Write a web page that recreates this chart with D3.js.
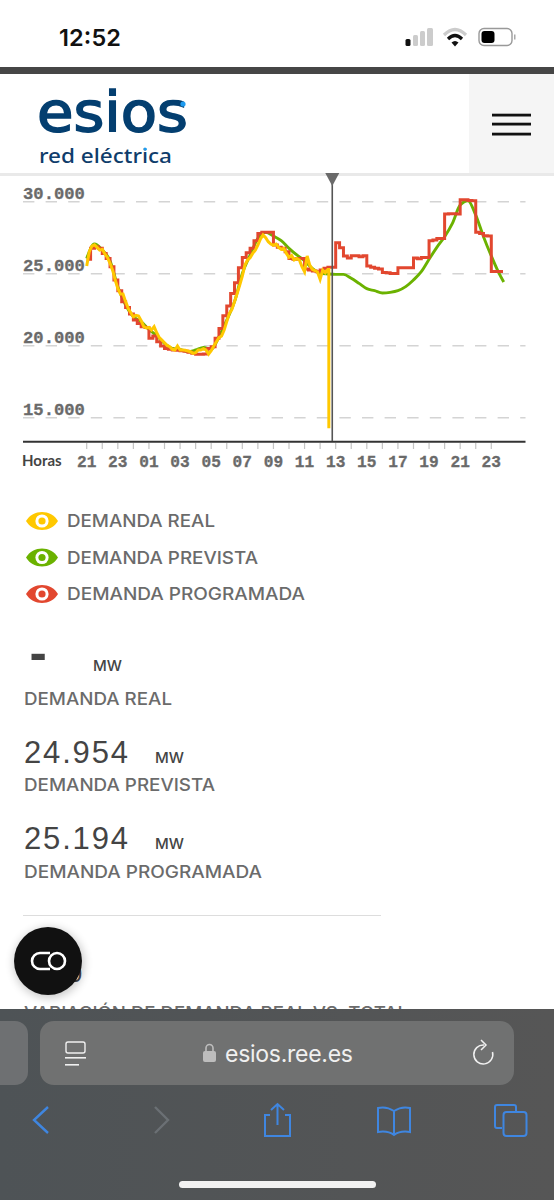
<!DOCTYPE html>
<html>
<head>
<meta charset="utf-8">
<script src="https://cdn.jsdelivr.net/npm/d3@7"></script>
<style>
  html, body { margin: 0; padding: 0; background: #fff; overflow: hidden; }
  svg { display: block; }
</style>
</head>
<body>
<div id="graph"></div>
<script>
// hours counted from 21:00 of the previous day
const tickHours = d3.range(0, 27);
const tickLabels = ['21', '23', '01', '03', '05', '07', '09', '11', '13', '15', '17', '19', '21', '23'];
const yTicks = [15000, 20000, 25000, 30000];

// demanda real, one sample every 10 minutes, then the drop at the cut
const realValues = [
  25530, 26530, 26920, 27010, 26830, 26640, 26690, 26370, 26130, 25720, 25250, 24560,
  23980, 23590, 23590, 23060, 22590, 22290, 22010, 22110, 22060, 21740, 21320, 21230,
  21270, 21090, 21320, 20900, 20560, 20390, 20210, 20020, 19930, 19750, 19700, 19980,
  19700, 19700, 19680, 19630, 19580, 19470, 19510, 19700, 19700, 19790, 19700, 19420,
  19650, 19980, 20280, 20560, 20670, 21090, 21670, 22250, 22520, 23060, 23630, 24210,
  24840, 25600, 25950, 26110, 26410, 26640, 26990, 27410, 27690, 27500, 27220, 27060,
  26970, 27060, 26830, 26690, 26760, 26410, 26130, 26270, 25950, 26060, 25950, 25490,
  25140, 26230, 25600, 25300, 25210, 25120, 24610, 25250, 25070, 25300
];
const realTailHours = [15.56, 15.56];
const realTailValues = [25300, 14260];

// demanda prevista, one sample every 30 minutes, the last one at 23:48
const previstaValues = [
  26060, 27060, 26640, 25900, 24100, 22820, 22010, 21670, 21130, 20690, 20160, 19810,
  19750, 19580, 19700, 19880, 19750, 20620, 21780, 23060, 25020, 26300, 27450, 27870,
  27620, 27290, 26760, 26300, 25900, 25370, 25020, 24980, 24954, 24950, 24680, 24330,
  23960, 23820, 23660, 23700, 23820, 24100, 24560, 25140, 26000, 26830, 27570, 28500,
  29770, 30070, 29070, 27570, 26230, 25020, 24420
];
const previstaEndHour = 26.8;

// demanda programada, one step every 15 minutes
const programadaValues = [
  26000, 26760, 26880, 26760, 26410, 26060, 25490, 24560, 23820, 23060, 22660, 22200,
  21780, 21550, 21320, 21270, 20510, 20670, 20280, 19980, 19810, 19750, 19700, 19680,
  19650, 19610, 19540, 19470, 19400, 19400, 19420, 19810, 19930, 20510, 21200, 22080,
  22750, 23630, 24370, 25420, 26130, 26460, 26760, 27290, 27800, 27870, 27870, 27870,
  26990, 26830, 26760, 26530, 26060, 26000, 26060, 26060, 25320, 25250, 25190, 25140,
  25250, 25370, 25440, 25440, 27150, 26800, 26230, 26090, 26250, 26250, 26180, 26250,
  25530, 25440, 25370, 25320, 25090, 25070, 25020, 25020, 25420, 25420, 25420, 25420,
  26090, 26040, 26130, 26130, 27290, 27340, 27450, 27450, 29140, 29170, 29170, 29140,
  30140, 30140, 30090, 30070, 27870, 27800, 27640, 27620, 25160, 25160, 25160, 25160
];

const cursorHour = 15.78;

const legendNames = ['DEMANDA REAL', 'DEMANDA PREVISTA', 'DEMANDA PROGRAMADA'];
const legendWidths = [148, 191, 238];
const legendColors = ['#ffc800', '#6bb200', '#e2472f'];

const svg = d3.select('#graph').append('svg').attr('width', 554).attr('height', 1200);
const x = d3.scaleLinear().domain([0, 26]).range([86.7, 491.3]);
const y = d3.scaleLinear().domain([15000, 30000]).range([417.7, 201.7]);
const chart = svg.append('g');
const sans = "Inter, 'Open Sans', sans-serif";
const mono = "'Liberation Mono', monospace";

// grid
chart.selectAll('.grid').data(yTicks).enter().append('line')
  .attr('x1', 23).attr('x2', 525.5)
  .attr('y1', d => y(d)).attr('y2', d => y(d))
  .attr('stroke', '#d4d4d4').attr('stroke-width', 1.4).attr('stroke-dasharray', '11.4 11.2');

chart.selectAll('.ylab').data(yTicks).enter().append('text')
  .attr('x', 23).attr('y', d => y(d) - 3)
  .attr('font-family', mono).attr('font-weight', 700).attr('font-size', 17.2).attr('fill', '#6a6a6a')
  .attr('stroke', '#6a6a6a').attr('stroke-width', 0.3)
  .text(d => d3.format(',')(d).replace(',', '.'));

// x axis
chart.append('line').attr('x1', 23).attr('x2', 525.5).attr('y1', 441.7).attr('y2', 441.7)
  .attr('stroke', '#333').attr('stroke-width', 2);
chart.selectAll('.tick').data(tickHours).enter().append('line')
  .attr('x1', d => x(d)).attr('x2', d => x(d)).attr('y1', 443).attr('y2', 449)
  .attr('stroke', '#c4c4c4').attr('stroke-width', 1.2);
chart.selectAll('.xlab').data(tickLabels).enter().append('text')
  .attr('x', (d, i) => x(i * 2)).attr('y', 467).attr('text-anchor', 'middle')
  .attr('font-family', mono).attr('font-weight', 700).attr('font-size', 16.2).attr('fill', '#6a6a6a')
  .attr('stroke', '#6a6a6a').attr('stroke-width', 0.3)
  .text(d => d);
chart.append('text').attr('x', 22).attr('y', 466)
  .attr('font-family', "Lato, sans-serif").attr('font-weight', 700).attr('font-size', 15).attr('fill', '#444')
  .text('Horas');

// series
const lineOf = curve => d3.line().x(d => x(d[0])).y(d => y(d[1])).curve(curve);
const previstaHours = d3.range(previstaValues.length - 1).map(i => i / 2).concat(previstaEndHour);
const previstaData = previstaValues.map((v, i) => [previstaHours[i], v]);
const programadaData = programadaValues.map((v, i) => [i / 4, v]);
const realData = realValues.map((v, i) => [i / 6, v])
  .concat(realTailValues.map((v, i) => [realTailHours[i], v]));

chart.append('path').attr('d', lineOf(d3.curveMonotoneX)(previstaData))
  .attr('fill', 'none').attr('stroke', legendColors[1]).attr('stroke-width', 2.9);
chart.append('path').attr('d', lineOf(d3.curveStepAfter)(programadaData))
  .attr('fill', 'none').attr('stroke', legendColors[2]).attr('stroke-width', 3);
chart.append('path').attr('d', lineOf(d3.curveLinear)(realData))
  .attr('fill', 'none').attr('stroke', legendColors[0]).attr('stroke-width', 3);

// cursor
chart.append('line').attr('x1', x(cursorHour)).attr('x2', x(cursorHour)).attr('y1', 180).attr('y2', 441)
  .attr('stroke', '#555').attr('stroke-width', 1.6);

// legend
const legend = svg.selectAll('.legend').data(legendNames).enter().append('g')
  .attr('transform', (d, i) => `translate(0,${[521, 557.5, 594][i]})`);
legend.append('path')
  .attr('d', 'M26,0 C33,-12 51,-12 58,0 C51,12 33,12 26,0 Z')
  .attr('fill', (d, i) => legendColors[i]);
legend.append('circle').attr('cx', 42).attr('r', 6.6).attr('fill', '#fff');
legend.append('circle').attr('cx', 42).attr('r', 3.6).attr('fill', (d, i) => legendColors[i]);
legend.append('text').attr('x', 67).attr('y', 6)
  .attr('font-family', sans).attr('font-weight', 500).attr('font-size', 17.2).attr('fill', '#6b6b6b')
  .attr('textLength', (d, i) => legendWidths[i]).attr('lengthAdjust', 'spacingAndGlyphs')
  .text(d => d);

// read-outs
const readouts = [
  { big: '-', bigX: 29.5, bigY: 669.5, size: 52, weight: 700, mw: 93, mwY: 671, label: 'DEMANDA REAL', labelY: 705, w: 148 },
  { big: '24.954', bigX: 24, bigY: 763, size: 31, weight: 400, mw: 155, mwY: 763, label: 'DEMANDA PREVISTA', labelY: 791, w: 191 },
  { big: '25.194', bigX: 24, bigY: 849, size: 31, weight: 400, mw: 155, mwY: 849, label: 'DEMANDA PROGRAMADA', labelY: 878, w: 238 }
];
readouts.forEach(v => {
  const b = svg.append('text').attr('x', v.bigX).attr('y', v.bigY)
    .attr('font-family', "'Liberation Sans', sans-serif").attr('font-size', v.size)
    .attr('font-weight', v.weight).attr('fill', '#444').text(v.big);
  if (v.big !== '-') b.attr('textLength', 104);
  svg.append('text').attr('x', v.mw).attr('y', v.mwY)
    .attr('font-family', sans).attr('font-weight', 500).attr('font-size', 14).attr('fill', '#444')
    .attr('textLength', 29).attr('lengthAdjust', 'spacingAndGlyphs').text('MW');
  svg.append('text').attr('x', 24).attr('y', v.labelY)
    .attr('font-family', sans).attr('font-weight', 500).attr('font-size', 17.2).attr('fill', '#6b6b6b')
    .attr('textLength', v.w).attr('lengthAdjust', 'spacingAndGlyphs').text(v.label);
});
svg.append('line').attr('x1', 23).attr('x2', 381).attr('y1', 915.5).attr('y2', 915.5)
  .attr('stroke', '#ddd').attr('stroke-width', 1.2);
svg.append('text').attr('x', 82).attr('y', 982).attr('text-anchor', 'end')
  .attr('font-family', "'Liberation Sans', sans-serif").attr('font-size', 24).attr('fill', '#444').text('0,0');
svg.append('text').attr('x', 24).attr('y', 1019)
  .attr('font-family', sans).attr('font-weight', 500).attr('font-size', 17.2).attr('fill', '#6b6b6b')
  .attr('textLength', 384).attr('lengthAdjust', 'spacingAndGlyphs').text('VARIACIÓN DE DEMANDA REAL VS. TOTAL');

// top bars of the phone and page
svg.append('rect').attr('y', 67).attr('width', 554).attr('height', 7).attr('fill', '#464646');
const header = svg.append('g');
header.append('rect').attr('y', 74).attr('width', 554).attr('height', 99).attr('fill', '#fff');
header.append('rect').attr('x', 469).attr('y', 74).attr('width', 85).attr('height', 99).attr('fill', '#f5f5f5');
header.append('rect').attr('y', 173).attr('width', 554).attr('height', 3).attr('fill', '#e9e9e9');
[115, 124, 134].forEach(h => header.append('rect').attr('x', 492).attr('y', h - 1.3)
  .attr('width', 39).attr('height', 2.8).attr('fill', '#111'));
header.append('text').attr('x', 37).attr('y', 130.5)
  .attr('font-family', "'DejaVu Sans', sans-serif").attr('font-size', 55).attr('fill', '#043f70')
  .attr('stroke', '#043f70').attr('stroke-width', 1.6)
  .attr('textLength', 151).attr('lengthAdjust', 'spacingAndGlyphs').text('esios');
header.append('circle').attr('cx', 183).attr('cy', 104).attr('r', 2.6).attr('fill', '#1e9bf0');
header.append('text').attr('x', 39).attr('y', 163)
  .attr('font-family', "'Noto Sans', sans-serif").attr('font-weight', 500).attr('font-size', 20).attr('fill', '#0f3d6b')
  .attr('textLength', 133).attr('lengthAdjust', 'spacingAndGlyphs').text('red eléctrica');
header.append('circle').attr('cx', 145).attr('cy', 149).attr('r', 1.6).attr('fill', '#1e9bf0');

// cursor head pokes out from under the header
header.append('path').attr('d', `M${x(cursorHour) - 7},173 h14 l-7,13 z`).attr('fill', '#6a6a6a');

// status bar
svg.append('text').attr('x', 59).attr('y', 46)
  .attr('font-family', "Inter, sans-serif").attr('font-weight', 600).attr('font-size', 23.5).attr('fill', '#111')
  .attr('textLength', 62).text('12:52');
[[405.5, 39, 5, 7, '#111'], [413, 35, 5, 11, '#ccc'], [420, 31, 5, 15, '#ccc'], [427, 28, 6, 18, '#ccc']]
  .forEach(b => svg.append('rect').attr('x', b[0]).attr('y', b[1]).attr('width', b[2]).attr('height', b[3]).attr('rx', 1.5).attr('fill', b[4]));
svg.append('path').attr('d', 'M444,35 Q455,24 466,35').attr('fill', 'none').attr('stroke', '#ccc').attr('stroke-width', 3.2);
svg.append('path').attr('d', 'M448,39 Q455,32 462,39').attr('fill', 'none').attr('stroke', '#111').attr('stroke-width', 3.2);
svg.append('path').attr('d', 'M451.5,42.5 L455,46.5 L458.5,42.5 Q455,39.5 451.5,42.5 Z').attr('fill', '#111');
svg.append('rect').attr('x', 479).attr('y', 28.5).attr('width', 33).attr('height', 17).attr('rx', 5).attr('fill', 'none').attr('stroke', '#999').attr('stroke-width', 1.4);
svg.append('rect').attr('x', 481.5).attr('y', 31).attr('width', 13).attr('height', 12).attr('rx', 3).attr('fill', '#000');
svg.append('rect').attr('x', 514).attr('y', 34.5).attr('width', 1.5).attr('height', 5).attr('fill', '#aaa');

// floating button
const defs = svg.append('defs');
const blur = defs.append('filter').attr('id', 'shadow').attr('x', '-30%').attr('y', '-30%').attr('width', '160%').attr('height', '160%');
blur.append('feGaussianBlur').attr('stdDeviation', 5);
svg.append('circle').attr('cx', 49).attr('cy', 963).attr('r', 35).attr('fill', '#000').attr('opacity', 0.22).attr('filter', 'url(#shadow)');
svg.append('circle').attr('cx', 48).attr('cy', 961).attr('r', 34).attr('fill', '#111');
svg.append('path').attr('d', 'M50,953 H40 A8,8 0 0 0 40,969 H50').attr('fill', 'none').attr('stroke', '#fff').attr('stroke-width', 2.6);
svg.append('circle').attr('cx', 57).attr('cy', 961).attr('r', 8).attr('fill', 'none').attr('stroke', '#fff').attr('stroke-width', 2.6);

// browser toolbar
const grad = defs.append('linearGradient').attr('id', 'bar').attr('x1', 0).attr('y1', 0).attr('x2', 1).attr('y2', 0);
grad.append('stop').attr('offset', 0).attr('stop-color', '#4e5356');
grad.append('stop').attr('offset', 1).attr('stop-color', '#565656');
svg.append('rect').attr('y', 1009).attr('width', 554).attr('height', 191).attr('fill', 'url(#bar)');
svg.append('rect').attr('x', -20).attr('y', 1021).attr('width', 48).attr('height', 64).attr('rx', 13).attr('fill', '#6e7072');
svg.append('rect').attr('x', 40).attr('y', 1021).attr('width', 474).attr('height', 64).attr('rx', 14).attr('fill', '#707171');
svg.append('rect').attr('x', 66).attr('y', 1042).attr('width', 19).attr('height', 11).attr('rx', 2).attr('fill', 'none').attr('stroke', '#f0f0f0').attr('stroke-width', 1.4);
[[65, 1057, 21], [65, 1064, 14]].forEach(l => svg.append('rect').attr('x', l[0]).attr('y', l[1]).attr('width', l[2]).attr('height', 1.6).attr('fill', '#f0f0f0'));
svg.append('rect').attr('x', 203).attr('y', 1051).attr('width', 13).attr('height', 11).attr('rx', 2).attr('fill', '#bdbdbd');
svg.append('path').attr('d', 'M206,1051 V1048 A3.5,3.5 0 0 1 213,1048 V1051').attr('fill', 'none').attr('stroke', '#bdbdbd').attr('stroke-width', 1.6);
svg.append('text').attr('x', 225).attr('y', 1062)
  .attr('font-family', "Inter, sans-serif").attr('font-size', 23).attr('fill', '#f0f0f0')
  .attr('textLength', 128).text('esios.ree.es');
svg.append('path').attr('d', 'M484,1045 A9.5,9.5 0 1 0 492.5,1052').attr('fill', 'none').attr('stroke', '#f0f0f0').attr('stroke-width', 1.5);
svg.append('path').attr('d', 'M481,1040 L486,1045 L481,1050').attr('fill', 'none').attr('stroke', '#f0f0f0').attr('stroke-width', 1.5);

const blue = '#3f86e0';
const icon = d => svg.append('path').attr('d', d).attr('fill', 'none').attr('stroke', blue).attr('stroke-width', 2);
icon('M48,1107 L34,1120 L48,1133').attr('stroke-width', 2.4);
icon('M155,1107 L168,1120 L155,1133').attr('stroke', '#6b7074').attr('stroke-width', 2.4);
icon('M270,1115 H265 V1136 H290 V1115 H285 M277.5,1125 V1104 M271,1110 L277.5,1104 L284,1110');
icon('M394,1111 C388,1107 382,1107 378,1108 V1132 C384,1131 390,1132 394,1135 C398,1132 404,1131 410,1132 V1108 C406,1107 400,1107 394,1111 V1135');
icon('M502,1128 H497 Q495,1128 495,1126 V1107 Q495,1105 497,1105 H514 Q516,1105 516,1107 V1112');
svg.append('rect').attr('x', 503.5).attr('y', 1112).attr('width', 23).attr('height', 24).attr('rx', 3).attr('fill', 'none').attr('stroke', blue).attr('stroke-width', 2);
svg.append('rect').attr('x', 179).attr('y', 1181).attr('width', 197).attr('height', 7).attr('rx', 3.5).attr('fill', '#f2f2f2');
</script>
</body>
</html>
